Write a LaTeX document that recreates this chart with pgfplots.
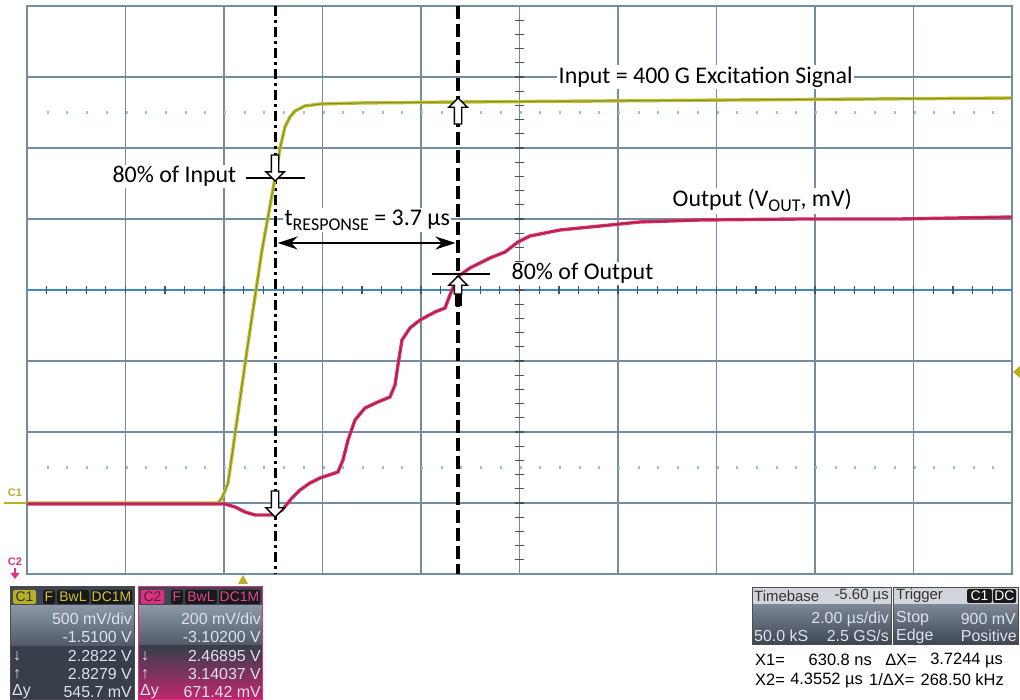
\documentclass[border=0pt]{standalone}
\usepackage{pgfplots}
\pgfplotsset{compat=1.18}
\usepackage{fontspec}
\setmainfont{Carlito}
\newfontfamily\scopefont{Liberation Sans}
\usetikzlibrary{arrows.meta,shapes.arrows}

\definecolor{gridc}{RGB}{115,140,158}
\definecolor{centerc}{RGB}{60,140,195}
\definecolor{dotc}{RGB}{150,190,225}
\definecolor{ch1}{RGB}{200,190,50}
\definecolor{ch1core}{RGB}{120,150,40}
\definecolor{ch2}{RGB}{220,50,110}
\definecolor{ch2core}{RGB}{160,30,70}
\definecolor{olivec}{RGB}{185,175,35}
\definecolor{ptext}{RGB}{222,226,236}
\definecolor{pdark}{RGB}{62,70,82}
\definecolor{pmid}{RGB}{80,89,102}
\definecolor{plight}{RGB}{140,150,165}
\definecolor{pinkc}{RGB}{225,45,130}
\definecolor{hdrlight}{RGB}{210,213,220}
\definecolor{boxtxt1}{RGB}{205,195,60}
\definecolor{boxtxt2}{RGB}{230,70,145}

\tikzset{
  big/.style={font=\fontsize{24}{28}\selectfont, fill=white, inner sep=1.5bp},
  sc/.style={font=\scopefont\fontsize{16}{17}\selectfont, inner sep=0pt, text=ptext},
  sct/.style={font=\scopefont\fontsize{15}{16}\selectfont, inner sep=0pt, text=black!80},
  sch/.style={font=\scopefont\fontsize{14}{15}\selectfont, inner sep=0pt},
  scb/.style={font=\scopefont\fontsize{16.5}{17}\selectfont, inner sep=0pt, text=black},
  cur/.style={single arrow, draw=black, line width=1.4bp, fill=white, minimum height=26bp, inner sep=3bp, single arrow head extend=5.5bp, anchor=tip},
}

\begin{document}
\begin{tikzpicture}
\useasboundingbox (0,0) rectangle (1020bp,700bp);
\fill[white] (0,0) rectangle (1020bp,700bp);
\begin{axis}[
  at={(27bp,410bp)}, anchor=origin,
  scale only axis, width=985bp, height=568bp,
  xmin=0, xmax=10, ymin=-4, ymax=4,
  xtick={1,...,9}, ytick={-3,...,3},
  xticklabels={}, yticklabels={},
  major tick length=0pt,
  grid=major,
  major grid style={gridc, line width=1.5bp},
  axis line style={gridc, line width=1.7bp},
  clip=false,
]
% dotted reference lines
\draw[dotc, line width=2.5bp, dash pattern=on 2bp off 17.7bp] (axis cs:0.2,2.5) -- (axis cs:10,2.5);
\draw[dotc, line width=2.5bp, dash pattern=on 2bp off 17.7bp] (axis cs:0.2,-2.5) -- (axis cs:10,-2.5);
% centre cross
\draw[centerc, line width=1.6bp] (axis cs:0,0) -- (axis cs:10,0);
\pgfplotsinvokeforeach{1,...,49}{\draw[gridc!60!black, line width=1.2bp] (axis cs:{#1*0.2},-0.06) -- (axis cs:{#1*0.2},0.06);}
\pgfplotsinvokeforeach{-19,...,19}{\draw[gridc!60!black, line width=1.2bp] (axis cs:4.955,{#1*0.2}) -- (axis cs:5.045,{#1*0.2});}

% cursor lines
\draw[black, line width=3bp, dash pattern=on 10bp off 4bp on 3bp off 4bp] (axis cs:2.518,4) -- (axis cs:2.518,-4);
\draw[black, line width=3.4bp, dash pattern=on 13bp off 5bp] (axis cs:4.376,4) -- (axis cs:4.376,-4);

% C1 input
\addplot[ch1, line width=3.4bp] coordinates {
(0,-3.0) (1.939,-3.0) (1.980,-2.930) (2.041,-2.718) (2.234,-0.845) (2.386,0.563)
(2.518,1.577) (2.569,2.000) (2.619,2.296) (2.670,2.437) (2.721,2.521) (2.822,2.592)
(2.975,2.620) (3.381,2.634) (4.396,2.648) (5.817,2.662) (7.848,2.683) (10,2.704)};
\addplot[ch1core, line width=1.1bp] coordinates {
(0,-3.0) (1.939,-3.0) (1.980,-2.930) (2.041,-2.718) (2.234,-0.845) (2.386,0.563)
(2.518,1.577) (2.569,2.000) (2.619,2.296) (2.670,2.437) (2.721,2.521) (2.822,2.592)
(2.975,2.620) (3.381,2.634) (4.396,2.648) (5.817,2.662) (7.848,2.683) (10,2.704)};

% C2 output
\addplot[ch2, line width=3.4bp] coordinates {
(0,-3.014) (2.010,-3.014) (2.112,-3.056) (2.213,-3.127) (2.315,-3.169) (2.487,-3.169)
(2.589,-3.099) (2.690,-2.930) (2.772,-2.817) (2.873,-2.718) (2.975,-2.648) (3.157,-2.563)
(3.208,-2.394) (3.259,-2.113) (3.330,-1.831) (3.431,-1.662) (3.563,-1.577) (3.685,-1.507)
(3.736,-1.338) (3.766,-1.056) (3.807,-0.704) (3.888,-0.535) (3.990,-0.423) (4.142,-0.310)
(4.244,-0.254) (4.294,-0.070) (4.345,0.099) (4.396,0.211) (4.497,0.310) (4.701,0.451)
(4.853,0.535) (4.985,0.676) (5.107,0.761) (5.411,0.845) (5.817,0.901) (6.223,0.958)
(6.832,0.986) (7.848,1.0) (8.863,1.0) (10,1.028)};
\addplot[ch2core, line width=1bp] coordinates {
(0,-3.014) (2.010,-3.014) (2.112,-3.056) (2.213,-3.127) (2.315,-3.169) (2.487,-3.169)
(2.589,-3.099) (2.690,-2.930) (2.772,-2.817) (2.873,-2.718) (2.975,-2.648) (3.157,-2.563)
(3.208,-2.394) (3.259,-2.113) (3.330,-1.831) (3.431,-1.662) (3.563,-1.577) (3.685,-1.507)
(3.736,-1.338) (3.766,-1.056) (3.807,-0.704) (3.888,-0.535) (3.990,-0.423) (4.142,-0.310)
(4.244,-0.254) (4.294,-0.070) (4.345,0.099) (4.396,0.211) (4.497,0.310) (4.701,0.451)
(4.853,0.535) (4.985,0.676) (5.107,0.761) (5.411,0.845) (5.817,0.901) (6.223,0.958)
(6.832,0.986) (7.848,1.0) (8.863,1.0) (10,1.028)};

% horizontal marker lines
\draw[black, line width=1.8bp] (axis cs:2.223,1.577) -- (axis cs:2.822,1.577);
\draw[black, line width=1.8bp] (axis cs:4.112,0.225) -- (axis cs:4.701,0.225);

% cursor arrows
\node[cur, shape border rotate=270] at (axis cs:2.518,1.521) {};
\node[cur, shape border rotate=270] at (axis cs:2.518,-3.211) {};
\node[cur, shape border rotate=90] at (axis cs:4.376,2.718) {};
\draw[black, line width=7bp] (axis cs:4.376,0.0) -- (axis cs:4.376,-0.22);
\node[cur, shape border rotate=90, minimum height=18bp] at (axis cs:4.376,0.211) {};

% response time arrow
\draw[{Stealth[length=20bp,width=13bp]}-{Stealth[length=20bp,width=13bp]}, line width=1.8bp] (axis cs:2.545,0.662) -- (axis cs:4.35,0.662);

% labels
\node[big, anchor=base east] at (axis cs:2.142,1.507) {80\% of Input};
\node[big, anchor=base west] at (axis cs:2.599,0.915) {t\raisebox{-5bp}{\fontsize{18}{18}\selectfont RESPONSE} = 3.7 µs};
\node[big, anchor=base west] at (axis cs:4.904,0.141) {80\% of Output};
\node[big, anchor=base west] at (axis cs:5.381,2.915) {Input = 400 G Excitation Signal};
\node[big, anchor=base west] at (axis cs:6.538,1.169) {Output (V\raisebox{-5bp}{\fontsize{18}{18}\selectfont OUT}, mV)};
\end{axis}

\begin{scope}[x=1bp,y=-1bp,yshift=700bp]
% channel markers
\node[text=olivec, font=\scopefont\bfseries\fontsize{11}{11}\selectfont, inner sep=0] at (15,493) {C1};
\draw[olivec, line width=2.5bp] (4,503) -- (27,503);
\node[text=pinkc, font=\scopefont\bfseries\fontsize{11}{11}\selectfont, inner sep=0] at (15,562) {C2};
\draw[pinkc, line width=1.2bp] (15,568) -- (15,575);
\fill[pinkc] (10.5,573) -- (19.5,573) -- (15,579) -- cycle;
\fill[olivec] (238,584) -- (248,584) -- (243,575) -- cycle;
\fill[olivec] (1013,372) -- (1020,366) -- (1020,378) -- cycle;

% C1 panel
\fill[pdark] (10,586) rectangle (134,606);
\shade[top color=plight, bottom color=pmid] (10,606) rectangle (134,646);
\fill[pdark!90!black] (10,646) rectangle (134,699);
\draw[black!70, line width=0.8bp] (10,586) rectangle (134,699);
\fill[olivec, rounded corners=2bp] (13,590) rectangle (36,604);
\node[sch, text=black!80] at (24.5,597) {C1};
\fill[black!90, rounded corners=2bp] (43,590) rectangle (55,604);
\node[sch, text=boxtxt1] at (49,597) {F};
\fill[black!90, rounded corners=2bp] (57,590) rectangle (89,604);
\node[sch, text=boxtxt1] at (73,597) {BwL};
\fill[black!90, rounded corners=2bp] (91,590) rectangle (132,604);
\node[sch, text=boxtxt1] at (111.5,597) {DC1M};
\node[sc, anchor=east] at (132,619) {500 mV/div};
\node[sc, anchor=east] at (132,637) {-1.5100 V};
\node[sc, anchor=west] at (13,656) {↓};
\node[sc, anchor=east] at (132,656) {2.2822 V};
\node[sc, anchor=west] at (13,674) {↑};
\node[sc, anchor=east] at (132,674) {2.8279 V};
\node[sc, anchor=west] at (12,692) {Δy};
\node[sc, anchor=east] at (132,692) {545.7 mV};

% C2 panel
\fill[pdark] (138,586) rectangle (262,606);
\shade[top color=plight, bottom color=pmid] (138,606) rectangle (262,646);
\shade[top color=pdark!90!black, bottom color=pinkc!85!black] (138,646) rectangle (262,699);
\draw[pinkc, line width=0.8bp] (138,586) rectangle (262,699);
\fill[pinkc, rounded corners=2bp] (141,590) rectangle (164,604);
\node[sch, text=black!80] at (152.5,597) {C2};
\fill[black!90, rounded corners=2bp] (171,590) rectangle (183,604);
\node[sch, text=boxtxt2] at (177,597) {F};
\fill[black!90, rounded corners=2bp] (185,590) rectangle (217,604);
\node[sch, text=boxtxt2] at (201,597) {BwL};
\fill[black!90, rounded corners=2bp] (219,590) rectangle (260,604);
\node[sch, text=boxtxt2] at (239.5,597) {DC1M};
\node[sc, anchor=east] at (261,619) {200 mV/div};
\node[sc, anchor=east] at (261,637) {-3.10200 V};
\node[sc, anchor=west] at (141,656) {↓};
\node[sc, anchor=east] at (261,656) {2.46895 V};
\node[sc, anchor=west] at (141,674) {↑};
\node[sc, anchor=east] at (261,674) {3.14037 V};
\node[sc, anchor=west] at (140,692) {Δy};
\node[sc, anchor=east] at (261,692) {671.42 mV};

% Timebase panel
\fill[hdrlight] (752,587) rectangle (891,605);
\shade[top color=plight!80!pdark, bottom color=pdark] (752,605) rectangle (891,644);
\draw[black!70, line width=0.8bp] (752,587) rectangle (891,644);
\node[sct, anchor=west] at (754,596) {Timebase};
\node[sct, anchor=east] at (889,596) {-5.60 µs};
\node[sc, anchor=east] at (889,619) {2.00 µs/div};
\node[sc, anchor=west] at (754,636) {50.0 kS};
\node[sc, anchor=east] at (889,636) {2.5 GS/s};

% Trigger panel
\fill[hdrlight] (893,587) rectangle (1018,605);
\shade[top color=plight!80!pdark, bottom color=pdark] (893,605) rectangle (1018,644);
\draw[black!70, line width=0.8bp] (893,587) rectangle (1018,644);
\node[sct, anchor=west] at (896,596) {Trigger};
\fill[black!90, rounded corners=2bp] (967,589) rectangle (992,603);
\node[sch, text=white] at (979.5,596) {C1};
\fill[black!90, rounded corners=2bp] (993,589) rectangle (1016,603);
\node[sch, text=white] at (1004.5,596) {DC};
\node[sc, anchor=west] at (896,619) {Stop};
\node[sc, anchor=east] at (1016,619) {900 mV};
\node[sc, anchor=west] at (896,636) {Edge};
\node[sc, anchor=east] at (1017,636) {Positive};

% cursor readout
\node[scb, anchor=west] at (755,660) {X1=};
\node[scb, anchor=east] at (872,660) {630.8 ns};
\node[scb, anchor=east] at (917,660) {ΔX=};
\node[scb, anchor=east] at (1003,660) {3.7244 µs};
\node[scb, anchor=west] at (755,680) {X2=};
\node[scb, anchor=east] at (863,680) {4.3552 µs};
\node[scb, anchor=west] at (869,680) {1/ΔX=};
\node[scb, anchor=east] at (1004,680) {268.50 kHz};
\end{scope}
\end{tikzpicture}
\end{document}
